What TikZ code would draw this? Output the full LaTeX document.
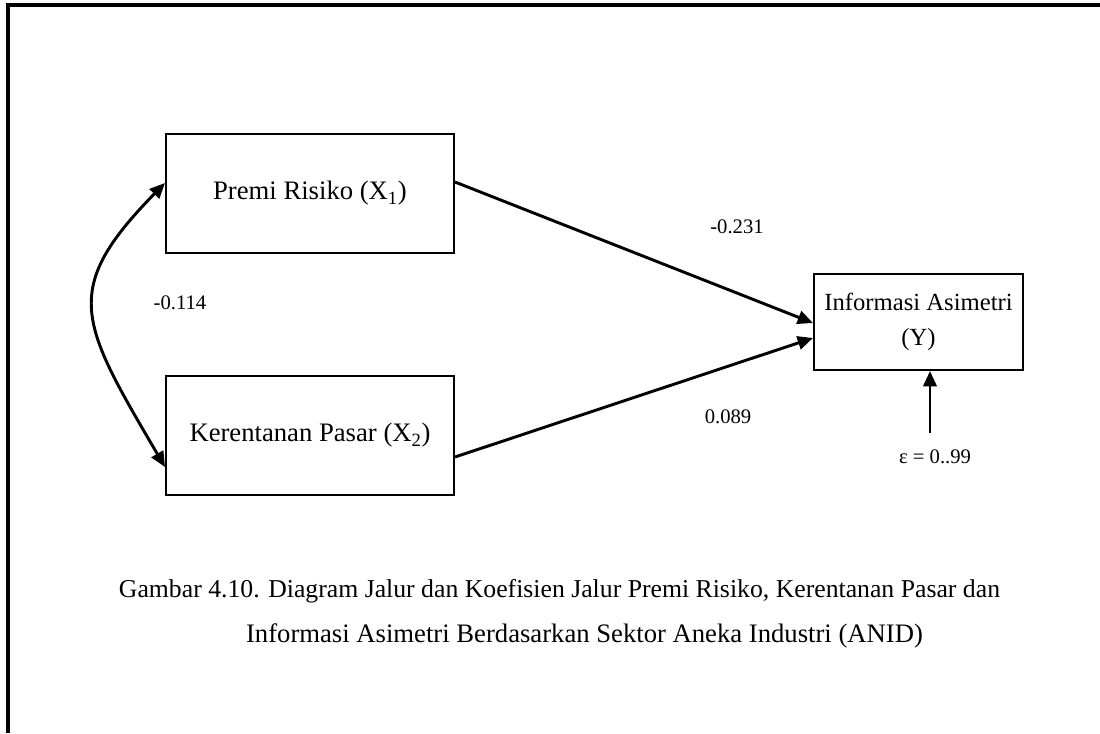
\documentclass[tikz,border=0pt]{standalone}
\usepackage{fontspec}
\setmainfont{Liberation Serif}
\usetikzlibrary{arrows.meta}

\begin{document}
\begin{tikzpicture}[x=0.75pt,y=-0.75pt,
  box/.style={draw, line width=1.5pt, inner sep=0pt, align=center,
              font=\fontsize{20}{26}\selectfont},
  link/.style={line width=2.2pt, -{Triangle[length=11.5pt,width=10pt]}},
  twoway/.style={line width=2.2pt, {Triangle[length=11.5pt,width=10pt]}-{Triangle[length=11.5pt,width=10pt]}},
  coef/.style={inner sep=0pt, font=\fontsize{15.5}{18}\selectfont},
  caption/.style={inner sep=0pt, font=\fontsize{20}{24}\selectfont},
  frameline/.style={line width=3pt, line join=miter}]

\useasboundingbox (0,0) rectangle (1100,733);

% page frame
\draw[frameline] (8,733) -- (8,5) -- (1100,5);

% variables
\node[box, minimum width=216pt, minimum height=89.25pt] (x1) at (310,193.5) {\raisebox{-2pt}{Premi Risiko (X\textsubscript{1})}};
\node[box, minimum width=216pt, minimum height=89.25pt] (x2) at (310,435.5) {Kerentanan Pasar (X\textsubscript{2})};
\node[box, minimum width=156.75pt, minimum height=72pt,
      font=\fontsize{18.5}{26}\selectfont] (y) at (918.5,322) {Informasi Asimetri\\(Y)};

% attachment heights
\coordinate (h1) at (0,182);
\coordinate (h2) at (0,457);
\coordinate (h3) at (0,323);
\coordinate (h4) at (0,338);
\coordinate (c1) at (0,183);
\coordinate (c2) at (0,467);

% paths
\draw[link] (x1.east |- h1) -- (y.west |- h3);
\draw[link] (x2.east |- h2) -- (y.west |- h4);
\draw[twoway] (x1.west |- c1) .. controls (60,290) and (80,322) .. (x2.west |- c2);

% error term
\node[coef] (eps) at (935,457) {ε = 0..99};
\coordinate (epsTail) at (930,433);
\draw[link] (epsTail) -- (epsTail |- y.south);

% coefficients
\node[coef] (k1) at (737,227) {-0.231};
\node[coef] (k2) at (728,417) {0.089};
\node[coef] (k3) at (180,303) {-0.114};

% caption
\node[caption, font=\fontsize{19.3}{24}\selectfont] (cap1) at (559.5,591) {Gambar 4.10. Diagram Jalur dan Koefisien Jalur Premi Risiko, Kerentanan Pasar dan};
\node[caption] (cap2) at (584.5,636) {Informasi Asimetri Berdasarkan Sektor Aneka Industri (ANID)};
\end{tikzpicture}
\end{document}
